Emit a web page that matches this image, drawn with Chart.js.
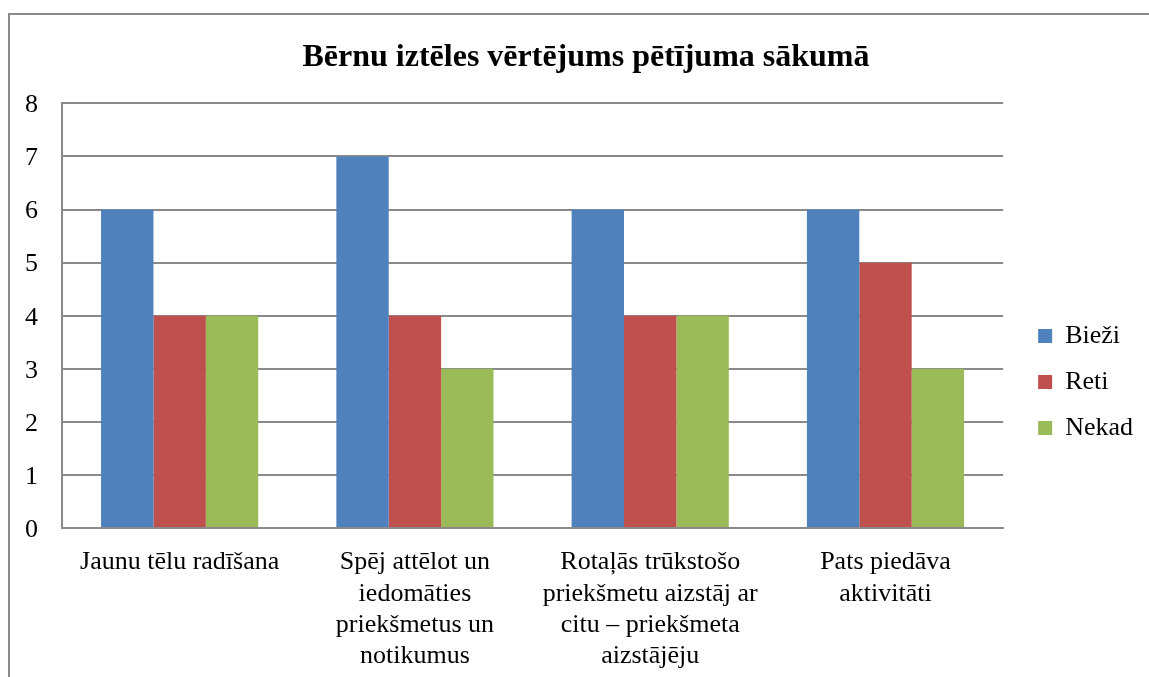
<!DOCTYPE html>
<html>
<head>
<meta charset="utf-8">
<script src="https://cdn.jsdelivr.net/npm/chart.js@4/dist/chart.umd.min.js"></script>
<style>
  html, body { margin: 0; padding: 0; background: #fff; overflow: hidden; }
  #frame {
    position: absolute; left: 8px; top: 13px; width: 1160px; height: 700px;
    border: 2px solid #8a8a8a; box-sizing: border-box;
  }
  #chart { position: absolute; left: 0; top: 0; }
</style>
</head>
<body>
<div id="frame"></div>
<canvas id="chart" width="1172" height="690"></canvas>
<script>
const categories = [
  "Jaunu tēlu radīšana",
  ["Spēj attēlot un", "iedomāties", "priekšmetus un", "notikumus"],
  ["Rotaļās trūkstošo", "priekšmetu aizstāj ar", "citu – priekšmeta", "aizstājēju"],
  ["Pats piedāva", "aktivitāti"],
];
const biezi = [6, 7, 6, 6];
const reti = [4, 4, 4, 5];
const nekad = [4, 3, 4, 3];
const yTicks = [0, 1, 2, 3, 4, 5, 6, 7, 8];

const serif = "'Liberation Serif', 'Times New Roman', serif";

// legend sits lower than the plot middle, title is centred on the whole frame
const nudge = {
  id: "nudge",
  afterLayout(chart) {
    const lg = chart.legend;
    lg.top += 37;
    lg.bottom += 37;
    lg.left += 15;
    lg.right += 15;
    const t = chart.titleBlock;
    t.left += 22;
    t.right += 22;
  },
};

new Chart(document.getElementById("chart"), {
  type: "bar",
  data: {
    labels: categories,
    datasets: [
      { label: "Bieži", data: biezi, backgroundColor: "#4F81BD" },
      { label: "Reti", data: reti, backgroundColor: "#C0504D" },
      { label: "Nekad", data: nekad, backgroundColor: "#9BBB59" },
    ],
  },
  options: {
    responsive: false,
    animation: false,
    layout: { padding: { left: 0, right: 44, top: 0, bottom: 0 } },
    datasets: { bar: { barPercentage: 1, categoryPercentage: 0.668 } },
    scales: {
      x: {
        grid: { display: false, drawTicks: false },
        border: { display: true, color: "#8a8a8a", width: 2 },
        ticks: {
          color: "#000",
          font: { family: serif, size: 26, lineHeight: 1.2 },
          padding: 19,
          maxRotation: 0,
          autoSkip: false,
        },
        afterFit(s) { s.height = 690 - 528; },
      },
      y: {
        min: 0,
        max: 8,
        afterBuildTicks(s) { s.ticks = yTicks.map((v) => ({ value: v })); },
        grid: { color: "#8a8a8a", lineWidth: 2, drawTicks: false },
        border: { display: true, color: "#8a8a8a", width: 2 },
        ticks: {
          color: "#000",
          font: { family: serif, size: 26 },
          padding: 24,
          labelOffset: 2,
        },
        afterFit(s) { s.width = 62; },
      },
    },
    plugins: {
      title: {
        display: true,
        text: "Bērnu iztēles vērtējums pētījuma sākumā",
        color: "#000",
        font: { family: serif, size: 32, weight: "bold" },
        padding: { top: 39, bottom: 26 },
      },
      legend: {
        position: "right",
        labels: {
          color: "#000",
          font: { family: serif, size: 26 },
          boxWidth: 14,
          boxHeight: 14,
          padding: 20,
        },
      },
      tooltip: { enabled: false },
    },
  },
  plugins: [nudge],
});
</script>
</body>
</html>
